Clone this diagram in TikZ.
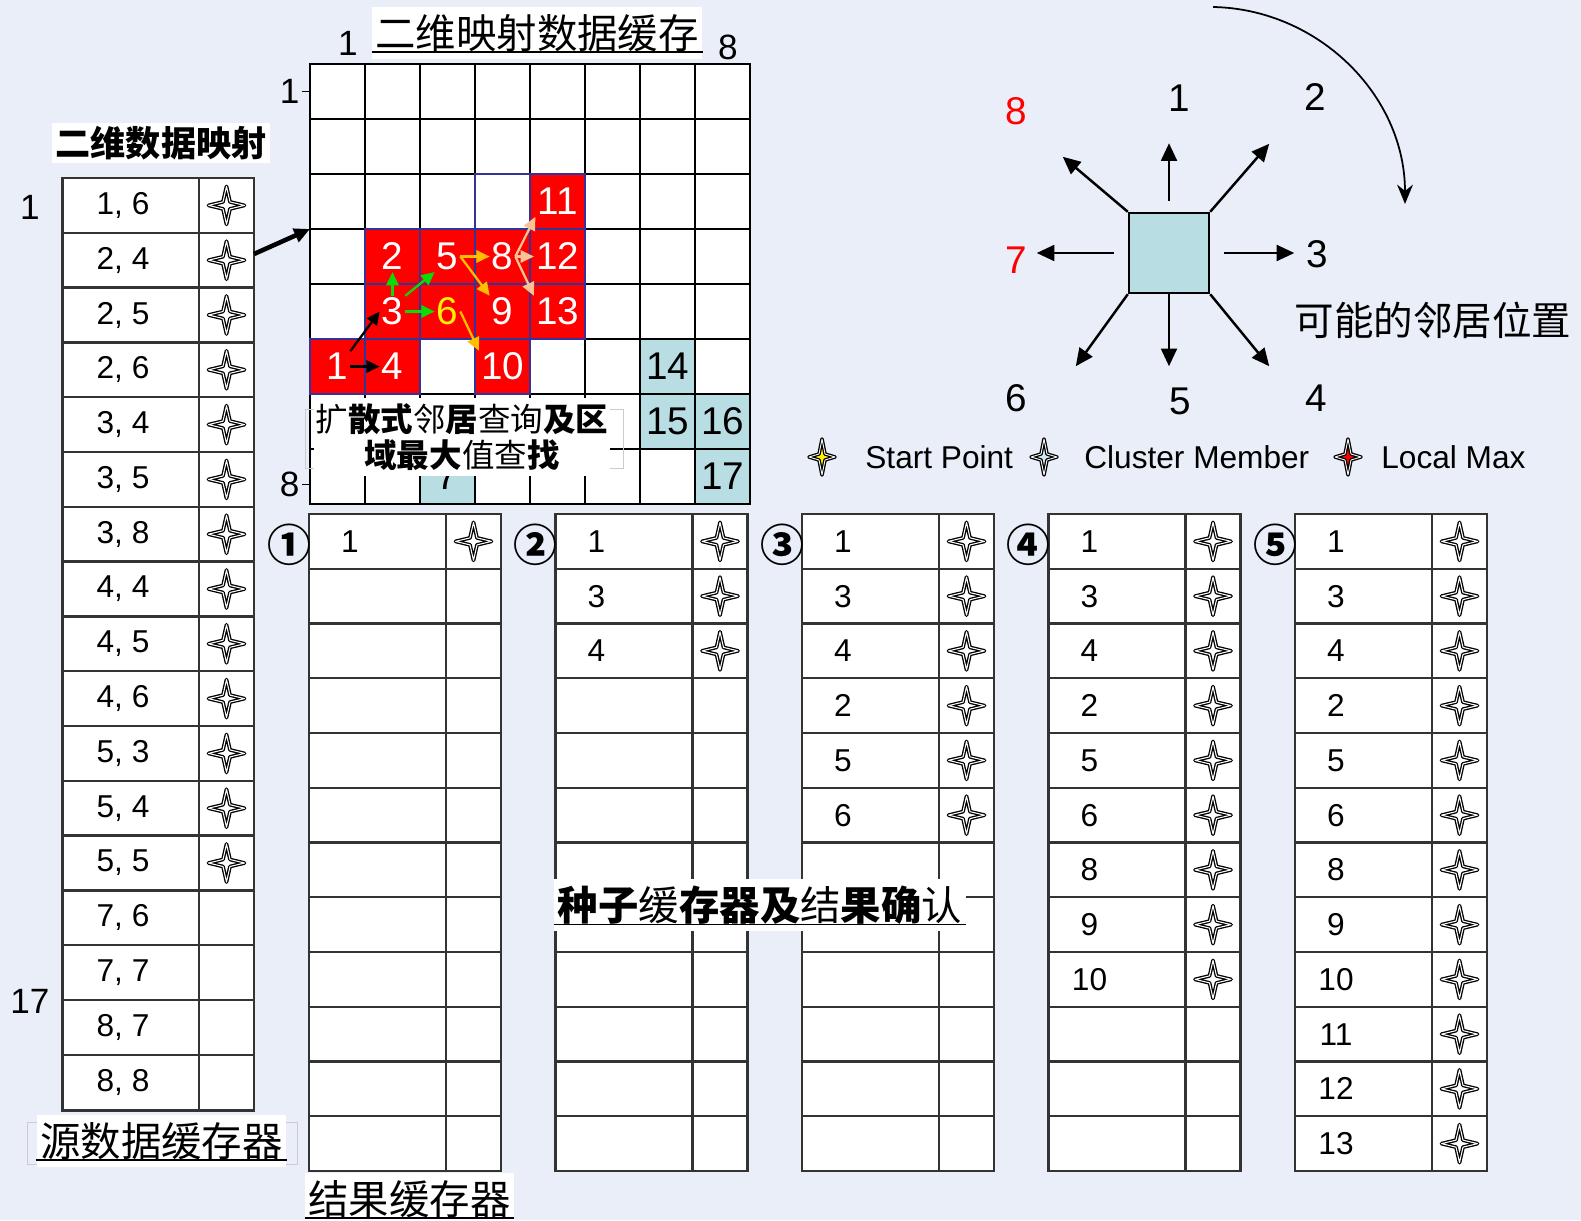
\documentclass[tikz,border=0pt]{standalone}
\usepackage{fontspec}
\setmainfont{Liberation Sans}
\newfontfamily\cjk{Noto Sans CJK SC}
\usetikzlibrary{arrows.meta,calc}
\definecolor{bgblue}{RGB}{233,238,248}
\definecolor{cellblue}{RGB}{184,222,228}
\definecolor{navyline}{RGB}{51,51,153}
\definecolor{arrgreen}{RGB}{10,220,10}
\definecolor{arrorange}{RGB}{255,190,0}
\definecolor{arrpeach}{RGB}{250,195,150}
\definecolor{starblue}{RGB}{205,235,245}
\newcommand\fsz[1]{\fontsize{#1}{#1}\selectfont}
\begin{document}
\begin{tikzpicture}[x=0.02cm, y=-0.02cm,
  gcell/.style={draw=black, line width=1.5pt, fill=white, minimum size=1.1cm, inner sep=0pt, outer sep=0pt},
  redcell/.style={gcell, fill=red, draw=navyline},
  bluecell/.style={gcell, fill=cellblue},
  gnum/.style={font=\fsz{22}, inner sep=1pt},
  garrow/.style={-{Triangle[length=7.5pt,width=7pt]}, line width=1.3pt},
  tabline/.style={draw=black!80, line width=1.3pt},
  cellnum/.style={font=\fsz{18}},
  axislab/.style={font=\fsz{20}},
  ultitle/.style={fill=white, inner xsep=2pt, inner ysep=4pt, font=\cjk\fsz{23}},
  carrow/.style={-{Triangle[length=10pt,width=9pt]}, line width=1.4pt},
  legtext/.style={font=\fsz{18}, anchor=west, inner sep=0pt},
  pics/sparkle/.style={code={\draw[line width=0.75pt, line join=round, double=white, double distance=0.6pt, fill=#1] (0,-19) -- (3.5,-3.5) -- (18,0) -- (3.5,3.5) -- (0,19) -- (-3.5,3.5) -- (-18,0) -- (-3.5,-3.5) -- cycle;}},
  pics/legstar/.style={code={\draw[line width=0.75pt, line join=round, double=white, double distance=0.5pt, fill=#1] (0,-18) -- (3,-3) -- (13,0) -- (3,3) -- (0,18) -- (-3,3) -- (-13,0) -- (-3,-3) -- cycle;}}
]
\fill[bgblue] (0,0) rectangle (1581,1220);
\useasboundingbox (0,0) rectangle (1581,1220);

\draw[tabline, fill=white] (62.5,178) rectangle (254,1110.6);
\draw[tabline] (199,178) -- (199,1110.6);
\foreach \i in {1,...,16} \draw[tabline] (62.5,{178+54.8*\i}) -- (254,{178+54.8*\i});
\foreach \t [count=\i] in {{1, 6},{2, 4},{2, 5},{2, 6},{3, 4},{3, 5},{3, 8},{4, 4},{4, 5},{4, 6},{5, 3},{5, 4},{5, 5},{7, 6},{7, 7},{8, 7},{8, 8}}{
  \node[cellnum] (src\i) at (123,{178+54.8*(\i-0.5)}) {\t};
}
\foreach \i in {1,...,13} \pic at (226.5,{178+54.8*(\i-0.5)}) {sparkle=white};
\node[fill=white, inner sep=2pt, font=\cjk\bfseries\fsz{20}] (maptitle) at (161,143) {二维数据映射};
\node[axislab] (srcfirst) at (30,207) {1};
\node[axislab] (srclast) at (30,1001) {17};
\draw[black!20] (27,1122) rectangle (297,1164);
\node[ultitle] (srctitle) at (161.5,1141) {源数据缓存器};
\draw[line width=0.9pt] ([yshift=4pt]srctitle.south west) -- ([yshift=4pt]srctitle.south east);

\foreach \r in {1,...,8}
  \foreach \c in {1,...,8}
    \node[gcell] (g-\r-\c) at ({310+55*(\c-0.5)},{64+55*(\r-0.5)}) {};
\node[gcell, draw=navyline] at (g-3-4) {};
\foreach \r/\c in {6/1,4/2,5/2,6/2,4/3,5/3,4/4,5/4,6/4,3/5,4/5,5/5}
  \node[redcell] at (g-\r-\c) {};
\foreach \r/\c in {6/7,7/7,7/8,8/8,8/3}
  \node[bluecell] at (g-\r-\c) {};
\foreach \t/\r/\c in {1/6/1,2/4/2,3/5/2,4/6/2,5/4/3,8/4/4,9/5/4,10/6/4,11/3/5,12/4/5,13/5/5}
  \node[gnum, text=white] (n\t) at (g-\r-\c) {\t};
\node[gnum, text=yellow] (n6) at (g-5-3) {6};
\foreach \t/\r/\c in {7/8/3,14/6/7,15/7/7,16/7/8,17/8/8}
  \node[gnum] (n\t) at (g-\r-\c) {\t};
\draw[garrow, black] (n1.east) -- (n4.west);
\draw[garrow, black] (n1.north east) -- (n3.west);
\draw[garrow, arrgreen] (n3.north) -- (n2.south);
\draw[garrow, arrgreen] (n3.north east) -- (n5.south west);
\draw[garrow, arrgreen] (n3.east) -- (n6.west);
\draw[garrow, arrorange] (n5.east) -- (n8.west);
\draw[garrow, arrorange] (n5.east) -- (n9.north west);
\draw[garrow, arrorange] (n6.east) -- (n10.north west);
\draw[garrow, arrpeach] (n8.east) -- (n11.south west);
\draw[garrow, arrpeach] (n8.east) -- (n12.west);
\draw[garrow, arrpeach] (n8.east) -- (n13.north west);
\node[axislab] (colfirst) at (348,43) {1};
\node[axislab] (collast) at (728,47) {8};
\draw[line width=1pt] (g-1-1.west) -- ++(-8,0) node[left, axislab, inner sep=1pt] (rowfirst) {1};
\draw[line width=1pt] ($(g-8-1.west)+(0,8)$) -- ++(-8,0) node[left, axislab, inner sep=1pt] (rowlast) {8};
\node[ultitle] (gridtitle) at (537,33) {二维映射数据缓存};
\draw[line width=0.9pt] ([yshift=4pt]gridtitle.south west) -- ([yshift=4pt]gridtitle.south east);
\coordinate (mapout) at (254,254);
\draw[line width=2.6pt, -{Triangle[length=9pt,width=8pt]}] (mapout) -- (g-3-1.south west);
\draw[black!20] (305,409) rectangle (623,468);
\node[fill=white, align=center, inner xsep=1pt, inner ysep=3pt, font=\cjk\fontsize{18.5}{20.5}\selectfont] (searchbox) at (462,437) {扩{\bfseries 散式}邻{\bfseries 居}查询{\bfseries 及区}\\{\bfseries 域最大}值查{\bfseries 找}};

\foreach \k/\cn in {0/①,1/②,2/③,3/④,4/⑤}{
  \pgfmathsetmacro\L{309+246.5*\k}
  \draw[tabline, fill=white] (\L,514) rectangle ++(192,657);
  \draw[tabline] (\L+137,514) -- ++(0,657);
  \foreach \i in {1,...,11} \draw[tabline] (\L,514+54.75*\i) -- ++(192,0);
  \node[font=\cjk\bfseries\fsz{25}, inner sep=0pt] (step\k) at (\L-20,545) {\cn};
}
\foreach \k/\n in {1/1,2/3,3/6,4/9,5/12}{
  \foreach \v [count=\i] in {1,3,4,2,5,6,8,9,10,11,12,13}{
    \ifnum\i>\n\else
      \node[cellnum] (res\k-\i) at ({309+246.5*(\k-1)+41},{514+54.75*(\i-0.5)}) {\v};
      \pic at ({309+246.5*(\k-1)+164.5},{514+54.75*(\i-0.5)}) {sparkle=white};
    \fi
  }
}
\node[ultitle] (restitle) at (409.5,1199) {结果缓存器};
\draw[line width=0.9pt] ([yshift=4pt]restitle.south west) -- ([yshift=4pt]restitle.south east);
\node[ultitle] (seedtitle) at (760,905) {{\bfseries 种子}缓{\bfseries 存器及}结{\bfseries 果确}认};
\draw[line width=0.9pt] ([yshift=4pt]seedtitle.south west) -- ([yshift=4pt]seedtitle.south east);

\node[draw=black, line width=1.4pt, fill=cellblue, minimum size=1.6cm, inner sep=0pt] (sq) at (1169,253) {};
\draw[carrow] ([yshift=6pt]sq.north) -- ++(0,-58);
\draw[carrow] (sq.north east) -- ++(59,-68);
\draw[carrow] ([xshift=8pt]sq.east) -- ++(70,0);
\draw[carrow] (sq.south east) -- ++(59,72);
\draw[carrow] (sq.south) -- ++(0,72);
\draw[carrow] (sq.south west) -- ++(-52,72);
\draw[carrow] ([xshift=-8pt]sq.west) -- ++(-77,0);
\draw[carrow] (sq.north west) -- ++(-65,-55);
\node[gnum] (d1) at (1179,98) {1};
\node[gnum] (d2) at (1315,97) {2};
\node[gnum] (d3) at (1317,254) {3};
\node[gnum] (d4) at (1316,398) {4};
\node[gnum] (d5) at (1180,401) {5};
\node[gnum] (d6) at (1016,398) {6};
\node[gnum, text=red] (d7) at (1016,260) {7};
\node[gnum, text=red] (d8) at (1016,111) {8};
\node[font=\cjk\fsz{22.5}] (nbtext) at (1433,320) {可能的邻居位置};
\coordinate (rotstart) at (1213,7);
\coordinate (rotend) at (1405,204);
\draw[line width=1pt, -{Stealth[length=11pt,width=9pt]}] (rotstart) .. controls (1318,9) and (1405,95) .. (rotend);

\pic at (822,457) {legstar=yellow};
\node[legtext] (lg1) at (865,457) {Start Point};
\pic at (1044,457) {legstar=starblue};
\node[legtext] (lg2) at (1084,457) {Cluster Member};
\pic at (1348,457) {legstar=red};
\node[legtext] (lg3) at (1381,457) {Local Max};
\end{tikzpicture}
\end{document}
